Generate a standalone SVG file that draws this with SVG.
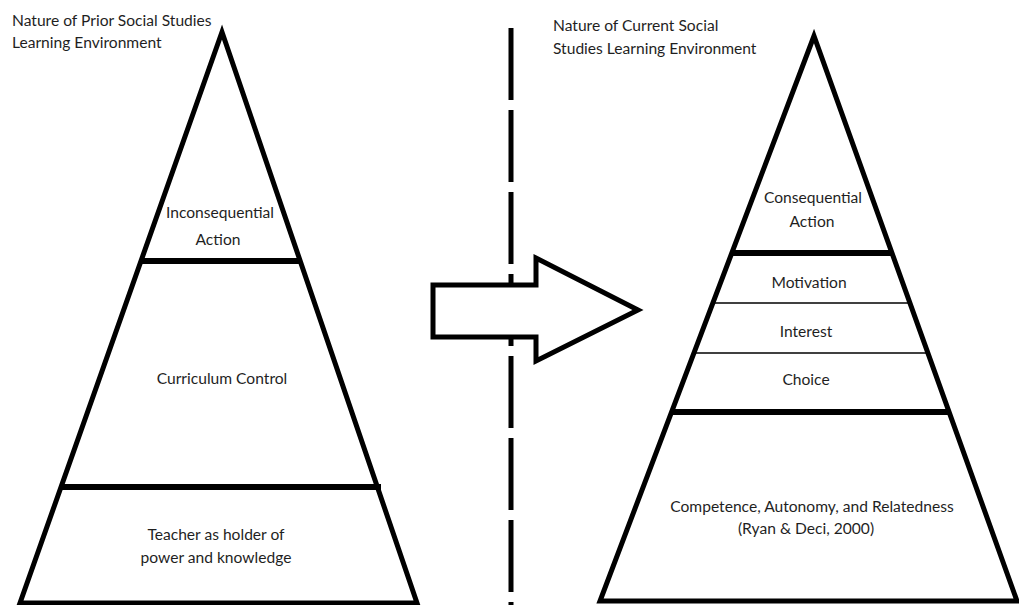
<svg xmlns="http://www.w3.org/2000/svg" width="1019" height="605" viewBox="0 0 1019 605">
<style>
.t{font-family:Lato,"Open Sans","Liberation Sans",sans-serif;font-size:15.6px;fill:#1f1f1f;}
.c{text-anchor:middle;}
.tri{fill:#fff;stroke:#000;stroke-width:5;stroke-linejoin:miter;}
.thick{stroke:#000;stroke-width:6;}
.thin{stroke:#000;stroke-width:1.4;}
</style>
<rect width="1019" height="605" fill="#fff"/>
<g id="divider">
<line x1="511" y1="28" x2="511" y2="605" stroke="#000" stroke-width="5" stroke-dasharray="72 10"/>
</g>
<g id="title-left">
<text class="t" x="12" y="26">Nature of Prior Social Studies</text>
<text class="t" x="12" y="48">Learning Environment</text>
</g>
<g id="title-right">
<text class="t" x="553" y="31">Nature of Current Social</text>
<text class="t" x="553" y="54">Studies Learning Environment</text>
</g>
<g id="pyramid-left">
<polygon class="tri" points="222,32 20,603 417,603"/>
<line class="thick" x1="141" y1="261" x2="301" y2="261"/>
<line class="thick" x1="61" y1="487" x2="381" y2="487"/>
</g>
<g id="left-inconsequential"><text class="t c" x="220" y="218">Inconsequential</text><text class="t c" x="218" y="245">Action</text></g>
<g id="left-curriculum"><text class="t c" x="222" y="384">Curriculum Control</text></g>
<g id="left-teacher"><text class="t c" x="216" y="540">Teacher as holder of</text><text class="t c" x="216" y="563">power and knowledge</text></g>
<g id="pyramid-right">
<polygon class="tri" points="814,36 600,601 1017,601"/>
<line class="thick" x1="731" y1="253" x2="893" y2="253"/>
<line class="thin" x1="712" y1="303" x2="910" y2="303"/>
<line class="thin" x1="694" y1="353" x2="929" y2="353"/>
<line class="thick" x1="672" y1="412" x2="950" y2="412"/>
</g>
<g id="right-consequential"><text class="t c" x="813" y="203">Consequential</text><text class="t c" x="812" y="227">Action</text></g>
<g id="right-motivation"><text class="t c" x="809" y="288">Motivation</text></g>
<g id="right-interest"><text class="t c" x="806" y="337">Interest</text></g>
<g id="right-choice"><text class="t c" x="806" y="385">Choice</text></g>
<g id="right-competence"><text class="t c" x="812" y="512">Competence, Autonomy, and Relatedness</text><text class="t c" x="806" y="534">(Ryan &amp; Deci, 2000)</text></g>
<g id="connectors">
<polygon id="arrow" points="433,285 536,285 536,258 638,310 536,361 536,337 433,337" fill="#fff" stroke="#000" stroke-width="5" stroke-linejoin="miter"/>
</g>
</svg>
